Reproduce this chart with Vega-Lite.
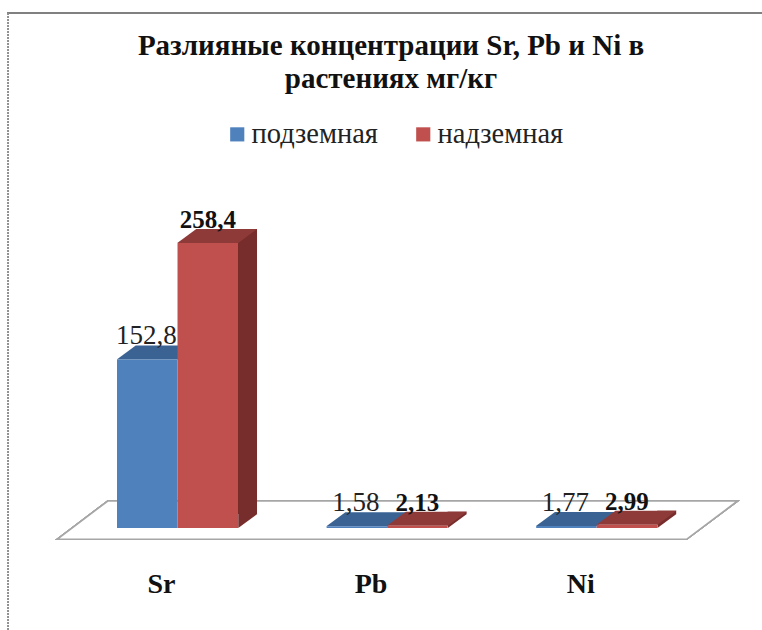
{
  "$schema": "https://vega.github.io/schema/vega-lite/v6.json",
  "width": 762,
  "height": 630,
  "padding": 0,
  "autosize": "none",
  "background": "white",
  "title": {
    "text": ["Разлияные концентрации Sr, Pb и Ni в", "растениях мг/кг"],
    "font": "Liberation Serif",
    "fontSize": 29,
    "fontWeight": "bold",
    "color": "#111111",
    "anchor": "middle",
    "lineHeight": 33,
    "dx": 10,
    "offset": -94
  },
  "config": {
    "view": {"stroke": null},
    "locale": {
      "number": {"decimal": ",", "thousands": " ", "grouping": [3], "currency": ["", ""]}
    }
  },
  "data": {
    "values": [
      {"element": "Sr", "part": "подземная", "value": 152.8},
      {"element": "Sr", "part": "надземная", "value": 258.4},
      {"element": "Pb", "part": "подземная", "value": 1.58},
      {"element": "Pb", "part": "надземная", "value": 2.13},
      {"element": "Ni", "part": "подземная", "value": 1.77},
      {"element": "Ni", "part": "надземная", "value": 2.99}
    ]
  },
  "encoding": {
    "x": {
      "field": "element",
      "type": "nominal",
      "title": null,
      "scale": {
        "domain": ["Sr", "Pb", "Ni"],
        "range": [72.7, 701.5],
        "paddingInner": 0.4227,
        "paddingOuter": 0.2114
      },
      "axis": {
        "orient": "bottom",
        "offset": -38,
        "domain": false,
        "ticks": false,
        "grid": false,
        "labelAngle": 0,
        "labelPadding": 0,
        "labelBaseline": "alphabetic",
        "labelOffset": -16,
        "labelFont": "Liberation Serif",
        "labelFontSize": 28,
        "labelFontWeight": "bold",
        "labelColor": "#111111"
      }
    },
    "xOffset": {
      "field": "part",
      "type": "nominal",
      "scale": {"domain": ["подземная", "надземная"], "paddingInner": 0, "paddingOuter": 0}
    },
    "y": {
      "field": "value",
      "type": "quantitative",
      "title": null,
      "axis": null,
      "scale": {"domain": [0, 300], "range": [528, 197], "nice": false}
    }
  },
  "layer": [
    {
      "description": "Top edge of the outer frame",
      "mark": {"type": "point", "shape": "M-380 -515L375 -515", "size": 4, "fill": null, "stroke": "#808080", "strokeWidth": 2, "opacity": 1},
      "encoding": {"x": {"datum": "Pb"}, "xOffset": null, "y": {"datum": 0}}
    },
    {
      "description": "Left edge of the outer frame",
      "mark": {"type": "point", "shape": "M-379 -515L-379 103", "size": 4, "fill": null, "stroke": "#909090", "strokeWidth": 1, "strokeDash": [2, 1], "opacity": 1},
      "encoding": {"x": {"datum": "Pb"}, "xOffset": null, "y": {"datum": 0}}
    },
    {
      "description": "Chart floor",
      "mark": {"type": "point", "shape": "M-330 11.3L-279.3 -27L350.4 -27L299.4 11.3Z", "size": 4, "fill": "#ffffff", "stroke": "#a6a6a6", "strokeWidth": 1.6, "opacity": 1},
      "encoding": {"x": {"datum": "Pb"}, "xOffset": null, "y": {"datum": 0}}
    },
    {
      "description": "Side face of the red bars: a narrow dark strip beside each bar, raised by the depth",
      "transform": [{"filter": "datum.part === 'надземная'"}],
      "mark": {"type": "bar", "width": 19, "fill": "#772d2b", "xOffset": 70, "yOffset": -14, "y2Offset": -14},
      "encoding": {"xOffset": null, "color": {"value": "#772d2b"}}
    },
    {
      "description": "Lower corner of the side face",
      "transform": [{"filter": "datum.part === 'надземная'"}],
      "mark": {"type": "point", "shape": "M30.5 0L49.5 -14L30.5 -14Z", "size": 4, "filled": true, "fill": "#772d2b", "strokeWidth": 0, "opacity": 1},
      "encoding": {"y": {"datum": 0}}
    },
    {
      "description": "Top face of the blue bars",
      "transform": [{"filter": "datum.part === 'подземная'"}],
      "mark": {"type": "point", "shape": "M-30.5 0L30.5 0L49.5 -14L-11.5 -14Z", "size": 4, "filled": true, "fill": "#3a6394", "strokeWidth": 0, "opacity": 1}
    },
    {
      "description": "Blue bars",
      "transform": [{"filter": "datum.part === 'подземная'"}],
      "mark": {"type": "bar"},
      "encoding": {
        "color": {
          "field": "part",
          "type": "nominal",
          "scale": {"domain": ["подземная", "надземная"], "range": ["#4f81bd", "#c0504d"]},
          "legend": {
            "title": null,
            "orient": "none",
            "direction": "horizontal",
            "legendX": 223,
            "legendY": 120,
            "symbolType": "square",
            "symbolSize": 200,
            "symbolStrokeWidth": 0,
            "labelFont": "Liberation Serif",
            "labelFontSize": 28.5,
            "labelColor": "#222222",
            "labelOffset": 0,
            "columnPadding": 31,
            "symbolOpacity": 1
          }
        }
      }
    },
    {
      "description": "Top face of the red bars",
      "transform": [{"filter": "datum.part === 'надземная'"}],
      "mark": {"type": "point", "shape": "M-30.5 0L30.5 0L49.5 -14L-11.5 -14Z", "size": 4, "filled": true, "fill": "#8e3a38", "strokeWidth": 0, "opacity": 1}
    },
    {
      "description": "Red bars",
      "transform": [{"filter": "datum.part === 'надземная'"}],
      "mark": {"type": "bar"},
      "encoding": {"color": {"field": "part", "type": "nominal"}}
    },
    {
      "description": "Value labels of the blue bars",
      "transform": [{"filter": "datum.part === 'подземная'"}],
      "mark": {"type": "text", "font": "Liberation Serif", "fontSize": 27, "color": "#222222", "baseline": "alphabetic", "dy": -15, "dx": -1},
      "encoding": {"text": {"field": "value", "type": "quantitative", "format": ".4~r"}}
    },
    {
      "description": "Value labels of the red bars",
      "transform": [{"filter": "datum.part === 'надземная'"}],
      "mark": {"type": "text", "font": "Liberation Serif", "fontSize": 25, "fontWeight": "bold", "color": "#111111", "baseline": "alphabetic", "dy": -15},
      "encoding": {"text": {"field": "value", "type": "quantitative", "format": ".4~r"}}
    }
  ]
}
